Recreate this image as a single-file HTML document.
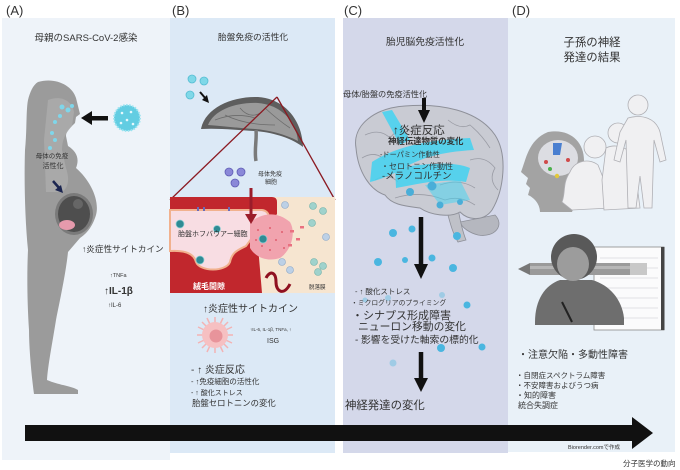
<!DOCTYPE html>
<html><head><meta charset="utf-8"><style>
html,body{margin:0;padding:0;background:#fff;}
svg{display:block;}
text{font-family:"Liberation Sans","Noto Sans CJK JP",sans-serif;fill:#333;}
</style></head><body>
<svg width="680" height="470" viewBox="0 0 680 470" xmlns="http://www.w3.org/2000/svg">
<rect width="680" height="470" fill="#fff"/>
<!-- panels -->
<rect x="2" y="18" width="168" height="442" fill="#eef3f9"/>
<rect x="170" y="18" width="165" height="435" fill="#dce9f6"/>
<rect x="343" y="18" width="165" height="435" fill="#d4d8ea"/>
<rect x="508" y="18" width="167" height="434" fill="#e9f1f8"/>

<!-- labels -->
<text x="6" y="15" font-size="13">(A)</text>
<text x="172" y="15" font-size="13">(B)</text>
<text x="344" y="15" font-size="13">(C)</text>
<text x="512" y="15" font-size="13">(D)</text>

<!-- ===== Panel A ===== -->
<text x="86" y="41" font-size="9.5" text-anchor="middle">母親のSARS-CoV-2感染</text>
<!-- woman -->
<path d="M38,82 C55,77 72,85 76,98 L80,114 L76,117 L75,123 C70,128 66,131 66,136 L68,146 C76,151 80,158 76,168 C90,180 100,200 96,215 C92,228 86,234 80,238 L68,252 C66,272 60,300 56,320 C52,345 48,365 47,380 C58,385 72,386 78,390 L78,394 L34,394 C32,380 29,350 29,330 C27,300 27,270 28,250 C25,220 24,180 25,150 C27,130 26,110 28,100 C30,92 33,85 38,82 Z" fill="#9b9b9b"/>
<path d="M48,100 C60,95 72,100 74,112 L72,126 C65,134 62,140 62,150 L66,168 C70,180 68,188 62,192 L46,192 L44,140 Z" fill="#adadad" opacity="0.8"/>
<ellipse cx="74" cy="214" rx="19" ry="21" fill="#7a7a7a"/>
<ellipse cx="74" cy="214" rx="16" ry="18" fill="#4e4e4e"/>
<ellipse cx="67" cy="225" rx="8" ry="5" fill="#e59aac"/>
<circle cx="78" cy="204" r="5" fill="#666"/>
<!-- airway dots -->
<g fill="#7fd6ea">
<circle cx="62" cy="107" r="2.5"/><circle cx="68" cy="110" r="2.5"/><circle cx="72" cy="106" r="2"/>
<circle cx="60" cy="116" r="2"/><circle cx="55" cy="122" r="2"/><circle cx="52" cy="133" r="2"/>
<circle cx="55" cy="140" r="2"/><circle cx="50" cy="148" r="2"/>
</g>
<text x="52" y="158" font-size="6.5" text-anchor="middle" fill="#444">母体の免疫</text>
<text x="53" y="168" font-size="7" text-anchor="middle" fill="#444">活性化</text>
<path d="M53,181 L60,189" stroke="#1b2550" stroke-width="2.5"/>
<polygon points="63,193 55,190 61,185" fill="#1b2550"/>
<!-- virus + arrow -->
<circle cx="127" cy="118" r="13" fill="#62cde2" stroke="#9be3f0" stroke-width="2" stroke-dasharray="1.5 1.5"/>
<g fill="#e6f8fc"><circle cx="122" cy="113" r="1.3"/><circle cx="131" cy="112" r="1.3"/><circle cx="127" cy="120" r="1.3"/><circle cx="121" cy="123" r="1.3"/><circle cx="133" cy="124" r="1.3"/></g>
<rect x="90" y="116" width="18" height="4.5" fill="#111"/>
<polygon points="81,118 92,111 92,125" fill="#111"/>
<text x="82" y="252" font-size="8.6">↑炎症性サイトカイン</text>
<text x="110" y="277" font-size="5.5" fill="#555">↑TNFa</text>
<text x="104" y="294" font-size="10" font-weight="bold" fill="#111">↑IL-1β</text>
<text x="108" y="307" font-size="6" fill="#555">↑IL-6</text>

<!-- ===== Panel B ===== -->
<text x="253" y="40" font-size="8.8" text-anchor="middle">胎盤免疫の活性化</text>
<g fill="#7fd8e8" stroke="#55bcd2" stroke-width="0.8"><circle cx="192" cy="79" r="4"/><circle cx="204" cy="81" r="4"/><circle cx="190" cy="95" r="4"/></g>
<path d="M200,92 L206,99" stroke="#111" stroke-width="2"/><polygon points="209,103 202,100 207,95" fill="#111"/>
<!-- placenta -->
<path d="M201,129 C205,108 232,96 258,97 C285,99 302,120 303,147 C290,137 270,132 255,131 C238,130 218,128 201,129 Z" fill="#5e5e5e"/>
<path d="M208,125 C214,110 236,102 258,103 C282,105 296,122 298,141 C285,134 268,130 255,129 C238,128 222,126 208,125 Z" fill="#9a9a9a"/>
<path d="M215,120 Q235,112 255,118 M240,108 Q250,120 262,112 M265,108 Q278,120 290,128 M225,115 Q245,125 275,125" stroke="#6c6c6c" stroke-width="0.8" fill="none"/>
<path d="M256,130 C257,140 254,150 256,161" stroke="#7a7a7a" stroke-width="3.5" fill="none"/>
<line x1="277" y1="97" x2="170" y2="200" stroke="#8b1a22" stroke-width="1.3"/>
<line x1="277" y1="97" x2="335" y2="200" stroke="#8b1a22" stroke-width="1.3"/>
<g fill="#8a88d8" stroke="#5f5cb4" stroke-width="0.8"><circle cx="229" cy="172" r="4"/><circle cx="241" cy="172" r="4"/><circle cx="235" cy="183" r="4"/></g>
<text x="258" y="176" font-size="6" fill="#444">母体免疫</text>
<text x="265" y="184" font-size="6" fill="#444">細胞</text>
<!-- inset -->
<rect x="170" y="197" width="165" height="96" fill="#f6e5d0"/>
<path d="M170,197 L272,197 Q277,197 277,202 L277,214 C270,222 262,232 258,246 L262,293 L170,293 Z" fill="#c1272d"/>
<path d="M170,210 L262,210 C270,211 272,220 262,228 C255,234 250,240 246,246 C238,250 232,252 230,262 C226,272 200,272 196,262 C194,254 186,250 170,251 Z" fill="#f8dde3" stroke="#f1b18e" stroke-width="2"/>
<path d="M250,222 C262,214 275,210 290,222 C296,232 292,250 280,258 C268,262 256,258 250,248 Z" fill="#f1a3ae"/>
<g fill="#df5f6f"><circle cx="258" cy="230" r="1"/><circle cx="264" cy="236" r="1"/><circle cx="270" cy="228" r="1"/><circle cx="276" cy="240" r="1"/><circle cx="282" cy="232" r="1"/><circle cx="262" cy="246" r="1"/><circle cx="270" cy="250" r="1"/><circle cx="284" cy="248" r="1"/><circle cx="256" cy="240" r="1"/></g>
<g fill="#e97180"><rect x="290" y="230" width="4" height="2.5"/><rect x="296" y="238" width="4" height="2.5"/><rect x="288" y="244" width="4" height="2.5"/><rect x="300" y="226" width="4" height="2.5"/></g>
<path d="M266,278 C270,270 276,272 276,282 C276,292 284,296 290,284" stroke="#8f1020" stroke-width="3" fill="none"/>
<g fill="#2f8b94" stroke="#8fd0d6" stroke-width="0.7"><circle cx="180" cy="224" r="4"/><circle cx="217" cy="229" r="3.5"/><circle cx="263" cy="239" r="4"/><circle cx="200" cy="260" r="4"/></g>
<g fill="#bcd0e6" stroke="#8aa7c8" stroke-width="0.6"><circle cx="285" cy="205" r="3.5"/><circle cx="326" cy="237" r="3.5"/><circle cx="282" cy="262" r="3.5"/><circle cx="290" cy="270" r="3.5"/></g>
<g fill="#9fd2cc" stroke="#6fb2aa" stroke-width="0.6"><circle cx="313" cy="206" r="3.5"/><circle cx="323" cy="211" r="3.5"/><circle cx="312" cy="223" r="3.5"/><circle cx="314" cy="262" r="3.5"/><circle cx="323" cy="266" r="3.5"/><circle cx="318" cy="272" r="3.5"/></g>
<rect x="197" y="207" width="2" height="4" fill="#6a6ab8"/><rect x="203" y="207" width="2" height="4" fill="#6a6ab8"/><rect x="228" y="207" width="2" height="4" fill="#6a6ab8"/>
<line x1="251" y1="188" x2="251" y2="216" stroke="#9b1c2a" stroke-width="3"/>
<polygon points="245,214 257,214 251,224" fill="#9b1c2a"/>
<text x="178" y="236" font-size="7" fill="#555">胎盤ホフバウアー細胞</text>
<text x="193" y="289" font-size="8" font-weight="bold" style="fill:#fff">絨毛間隙</text>
<text x="309" y="289" font-size="5.5" fill="#555">脱落膜</text>
<text x="203" y="312" font-size="10">↑炎症性サイトカイン</text>
<!-- spiky cell -->
<g stroke="#f3b3b4" stroke-width="1.5">
<line x1="215" y1="317" x2="215" y2="353"/><line x1="197" y1="335" x2="233" y2="335"/>
<line x1="202" y1="322" x2="228" y2="348"/><line x1="228" y1="322" x2="202" y2="348"/>
<line x1="207" y1="318" x2="223" y2="352"/><line x1="223" y1="318" x2="207" y2="352"/>
<line x1="198" y1="327" x2="232" y2="343"/><line x1="198" y1="343" x2="232" y2="327"/>
</g>
<circle cx="215" cy="335" r="13" fill="#f6c0c2"/>
<circle cx="216" cy="336" r="6.5" fill="#e8949b"/>
<text x="250" y="331" font-size="4.5" fill="#777">↑IL-6, IL-1β, TNFa, ↑</text>
<text x="267" y="343" font-size="7" fill="#444">ISG</text>
<text x="191" y="373" font-size="10">- ↑ 炎症反応</text>
<text x="191" y="384" font-size="7.5">- ↑免疫細胞の活性化</text>
<text x="191" y="395" font-size="7">- ↑ 酸化ストレス</text>
<text x="192" y="406" font-size="8.4">胎盤セロトニンの変化</text>

<!-- ===== Panel C ===== -->
<text x="425" y="45" font-size="9.8" text-anchor="middle">胎児脳免疫活性化</text>
<text x="343" y="97" font-size="8.2">母体/胎盤の免疫活性化</text>
<!-- brain -->
<path d="M495,215 C505,225 495,238 478,235 C470,233 462,228 460,222 Z" fill="#b5b7bf" stroke="#8e9099" stroke-width="0.8"/>
<path d="M446,208 C450,222 452,232 458,242 L466,240 C462,230 460,220 458,208 Z" fill="#bfc1c8" stroke="#8e9099" stroke-width="0.8"/>
<path d="M356,148 C352,125 375,108 405,106 C440,103 478,110 495,135 C508,155 504,190 492,210 C485,220 470,222 460,212 C450,218 430,215 420,208 C405,206 392,205 385,195 C370,190 358,172 356,148 Z" fill="#c9cbd3" stroke="#8e9099" stroke-width="1"/>
<g stroke="#9a9ca5" stroke-width="0.8" fill="none">
<path d="M365,135 Q380,128 390,138 Q400,125 412,132 Q425,120 438,130"/>
<path d="M448,120 Q460,130 470,125 Q482,135 490,148"/>
<path d="M362,158 Q375,150 385,160"/>
<path d="M470,160 Q485,155 495,168 Q488,180 498,190"/>
<path d="M395,198 Q420,190 445,200 Q460,195 475,205"/>
<path d="M440,185 Q460,178 475,188"/>
<path d="M375,180 Q388,172 398,182"/>
</g>
<g fill="#43d3f1" opacity="0.85">
<path d="M382,112 L392,110 L410,140 L400,145 Z"/>
<path d="M372,162 C390,150 420,140 470,138 L474,150 C440,152 420,158 400,170 C390,176 378,180 370,182 Z"/>
<path d="M395,168 C420,165 450,160 470,168 L466,182 C440,178 420,184 396,188 Z"/>
<path d="M425,185 L460,180 L470,200 L440,205 Z" opacity="0.6"/>
</g>
<g fill="#4aaed8"><circle cx="410" cy="192" r="4"/><circle cx="432" cy="186" r="4.5"/><circle cx="440" cy="205" r="3.5"/><circle cx="460" cy="202" r="3"/></g>
<line x1="424" y1="98" x2="424" y2="112" stroke="#111" stroke-width="4"/>
<polygon points="418,110 430,110 424,123" fill="#111"/>
<text x="393" y="134" font-size="11.5">↑炎症反応</text>
<text x="388" y="144" font-size="8.4" font-weight="bold" fill="#222">神経伝達物質の変化</text>
<text x="380" y="157" font-size="7.2" fill="#555">-ドーパミン作動性</text>
<text x="381" y="169" font-size="8">・セロトニン作動性</text>
<text x="382" y="179" font-size="9.5">-メラノコルチン</text>
<line x1="421" y1="217" x2="421" y2="266" stroke="#111" stroke-width="4.5"/>
<polygon points="414,264 428,264 421,279" fill="#111"/>
<g fill="#4ab6e0"><circle cx="393" cy="233" r="4"/><circle cx="412" cy="229" r="3.5"/><circle cx="457" cy="236" r="4"/><circle cx="378" cy="262" r="4"/><circle cx="405" cy="260" r="3"/><circle cx="432" cy="258" r="3.5"/><circle cx="453" cy="268" r="4"/><circle cx="467" cy="305" r="3.5"/><circle cx="441" cy="348" r="4"/><circle cx="482" cy="347" r="3.5"/></g>
<g fill="#7cc4e2" opacity="0.6"><circle cx="442" cy="295" r="3"/><circle cx="388" cy="298" r="3"/><circle cx="393" cy="363" r="3.5"/><circle cx="365" cy="300" r="2.5"/></g>
<text x="355" y="294" font-size="7.5">- ↑ 酸化ストレス</text>
<text x="351" y="305" font-size="6.8" fill="#666">・ミクログリアのプライミング</text>
<text x="352" y="319" font-size="11">・シナプス形成障害</text>
<text x="358" y="330" font-size="10.8">ニューロン移動の変化</text>
<text x="355" y="343" font-size="9.8">- 影響を受けた軸索の標的化</text>
<line x1="421" y1="352" x2="421" y2="380" stroke="#111" stroke-width="4.5"/>
<polygon points="414,378 428,378 421,392" fill="#111"/>
<text x="345" y="409" font-size="11.4">神経発達の変化</text>

<!-- ===== Panel D ===== -->
<text x="592" y="46" font-size="11.4" text-anchor="middle">子孫の神経</text>
<text x="592" y="61" font-size="11.4" text-anchor="middle">発達の結果</text>
<!-- head silhouette -->
<path d="M548,132 C570,128 584,142 584,160 C584,180 578,198 572,212 L540,212 C540,205 535,198 528,195 L530,188 L526,184 L528,178 L521,172 C526,160 528,140 548,132 Z" fill="#a3a3a3"/>
<ellipse cx="558" cy="158" rx="20" ry="18" fill="#dcdde2"/>
<path d="M553,143 L562,143 L560,155 L553,155 Z" fill="#4a7fd0"/>
<circle cx="546" cy="162" r="2" fill="#d04a4a"/><circle cx="568" cy="160" r="2" fill="#d04a4a"/>
<circle cx="550" cy="169" r="2" fill="#4bb04b"/><circle cx="557" cy="176" r="2.2" fill="#e2c83c"/>
<!-- children -->
<g fill="#f0f0f2" stroke="#b0b0b5" stroke-width="0.8">
<path d="M570,172 C575,160 590,158 598,165 L606,185 L610,208 L572,210 L562,202 C566,192 562,184 570,172 Z"/>
<circle cx="595" cy="147" r="11"/>
<path d="M606,148 C618,142 634,150 634,162 L640,208 L604,210 L602,180 Z"/>
<circle cx="618" cy="133" r="10"/>
<path d="M628,118 C642,114 656,118 660,132 L666,160 L660,162 L654,140 L652,208 L644,208 L640,176 L636,208 L628,208 L626,140 L620,162 L614,160 L620,132 Z"/>
<circle cx="638" cy="105" r="10"/>
</g>
<!-- boy drawing -->
<rect x="594" y="247" width="70" height="83" fill="#fbfbfc" stroke="#8a8a8a" stroke-width="0.8"/>
<rect x="661" y="247" width="3.5" height="83" fill="#444"/>
<g stroke="#c9c9cf" stroke-width="0.5"><line x1="600" y1="258" x2="658" y2="258"/><line x1="600" y1="268" x2="658" y2="268"/><line x1="600" y1="278" x2="658" y2="278"/><line x1="600" y1="288" x2="658" y2="288"/><line x1="600" y1="298" x2="658" y2="298"/><line x1="600" y1="308" x2="658" y2="308"/><line x1="600" y1="318" x2="658" y2="318"/></g>
<polygon points="518,269 530,263 530,275" fill="#777"/>
<rect x="530" y="263" width="117" height="12" fill="#9a9a9a"/>
<rect x="530" y="266" width="117" height="3" fill="#b6b6b6"/>
<rect x="630" y="263" width="17" height="12" fill="#c8c8c8"/>
<path d="M535,322 C535,300 545,285 560,280 L592,280 C610,285 622,300 624,318 L624,325 L535,325 Z" fill="#6e6e6e"/>
<ellipse cx="574" cy="257" rx="23" ry="23" fill="#595959"/>
<ellipse cx="573" cy="264" rx="16" ry="17" fill="#9c9c9c"/>
<line x1="562" y1="302" x2="572" y2="322" stroke="#222" stroke-width="2"/>
<text x="518" y="358" font-size="10">・注意欠陥・多動性障害</text>
<text x="516" y="378" font-size="7.5">・自閉症スペクトラム障害</text>
<text x="516" y="388" font-size="7.5">・不安障害およびうつ病</text>
<text x="516" y="398" font-size="8">・知的障害</text>
<text x="518" y="408" font-size="8">統合失調症</text>

<!-- big arrow -->
<rect x="25" y="425" width="609" height="16" fill="#111"/>
<polygon points="632,417 653,433 632,449" fill="#111"/>
<text x="568" y="449" font-size="5.5" fill="#8a8f98">Biorender.comで作成</text>
<text x="623" y="466" font-size="7.5" fill="#333">分子医学の動向</text>
</svg>
</body></html>
